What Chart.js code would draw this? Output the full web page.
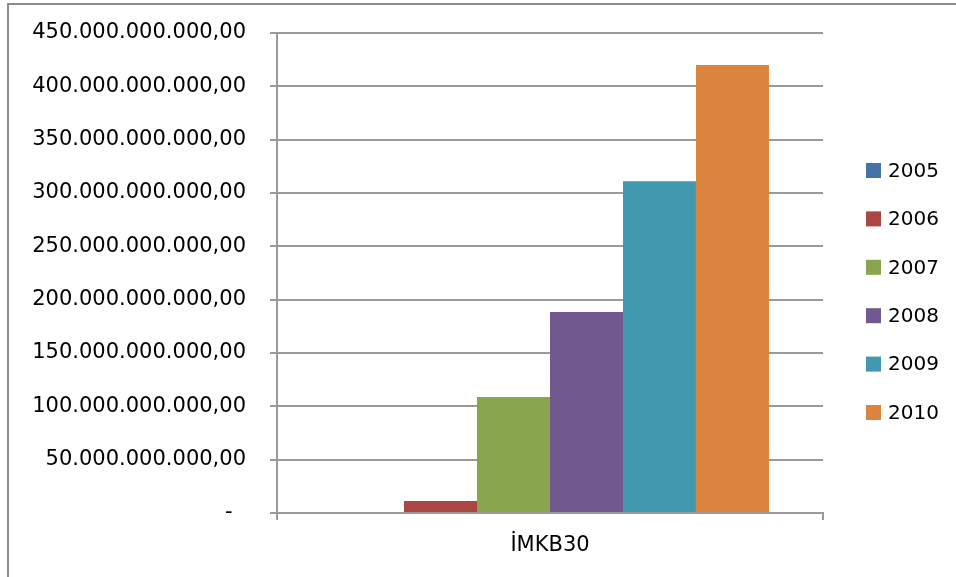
<!DOCTYPE html>
<html lang="tr">
<head>
    <meta charset="UTF-8">
    <title>İMKB30</title>
    <script src="https://cdn.jsdelivr.net/npm/chart.js"></script>
    <style>
        body {
            margin: 0;
            padding: 0;
            background: #ffffff;
            overflow: hidden;
        }

        .frame {
            position: absolute;
            left: 7px;
            top: 3px;
            width: 1200px;
            height: 800px;
            border-left: 2px solid #8c8c8c;
            border-top: 2px solid #8c8c8c;
        }

        #chart {
            position: absolute;
            left: 0;
            top: 0;
        }
    </style>
</head>
<body>
<div class="frame"></div>
<canvas id="chart" width="956" height="577"></canvas>

<script>
    const categories = ['İMKB30'];
    const years = ['2005', '2006', '2007', '2008', '2009', '2010'];
    const values2005 = [0];
    const values2006 = [11200000000];
    const values2007 = [108700000000];
    const values2008 = [188400000000];
    const values2009 = [311000000000];
    const values2010 = [420000000000];
    const barColors = ['#4572A7', '#AA4643', '#89A54E', '#71588F', '#4198AF', '#DB843D'];

    const seriesValues = [values2005, values2006, values2007, values2008, values2009, values2010];
    const FONT = 'DejaVu Sans';
    const GRID = '#9a9a9a';

    // 450000000000 -> "450.000.000.000,00", zero shown as a dash
    function formatTick(value) {
        if (value === 0) return '-  ';
        const whole = Math.round(value).toString().replace(/\B(?=(\d{3})+(?!\d))/g, '.');
        return whole + ',00';
    }

    // legend drawn at the right, squares + year labels
    const sideLegend = {
        id: 'sideLegend',
        afterDraw(chart) {
            const ctx = chart.ctx;
            ctx.save();
            ctx.font = '20px "' + FONT + '"';
            ctx.textBaseline = 'middle';
            ctx.textAlign = 'left';
            chart.data.datasets.forEach((ds, i) => {
                const cy = 170.5 + i * 48.4;
                ctx.fillStyle = ds.backgroundColor;
                ctx.fillRect(866, cy - 7.5, 15, 15);
                ctx.fillStyle = '#000000';
                ctx.fillText(ds.label, 888, cy + 1);
            });
            ctx.restore();
        }
    };

    const ctx = document.getElementById('chart').getContext('2d');
    new Chart(ctx, {
        type: 'bar',
        data: {
            labels: categories,
            datasets: years.map((year, i) => ({
                label: year,
                data: seriesValues[i],
                backgroundColor: barColors[i],
                borderWidth: 0,
                categoryPercentage: 0.802,
                barPercentage: 1
            }))
        },
        options: {
            responsive: false,
            animation: false,
            layout: {
                padding: { left: 0, right: 133, top: 33, bottom: 0 }
            },
            plugins: {
                legend: { display: false },
                tooltip: { enabled: false }
            },
            scales: {
                x: {
                    grid: {
                        display: true,
                        offset: true,
                        drawOnChartArea: false,
                        color: GRID,
                        lineWidth: 2,
                        tickLength: 7
                    },
                    border: { color: GRID, width: 2 },
                    ticks: {
                        color: '#000000',
                        padding: 13,
                        font: { family: FONT, size: 21 }
                    },
                    afterFit(scale) { scale.height = 64; }
                },
                y: {
                    min: 0,
                    max: 450000000000,
                    grid: {
                        color: GRID,
                        lineWidth: 2,
                        tickLength: 7
                    },
                    border: { color: GRID, width: 2 },
                    ticks: {
                        stepSize: 50000000000,
                        color: '#000000',
                        padding: 24,
                        font: { family: FONT, size: 21 },
                        callback: formatTick
                    },
                    afterFit(scale) {
                        scale.width = 277;
                        scale.paddingTop = 0;
                        scale.paddingBottom = 0;
                    }
                }
            }
        },
        plugins: [sideLegend]
    });
</script>
</body>
</html>
